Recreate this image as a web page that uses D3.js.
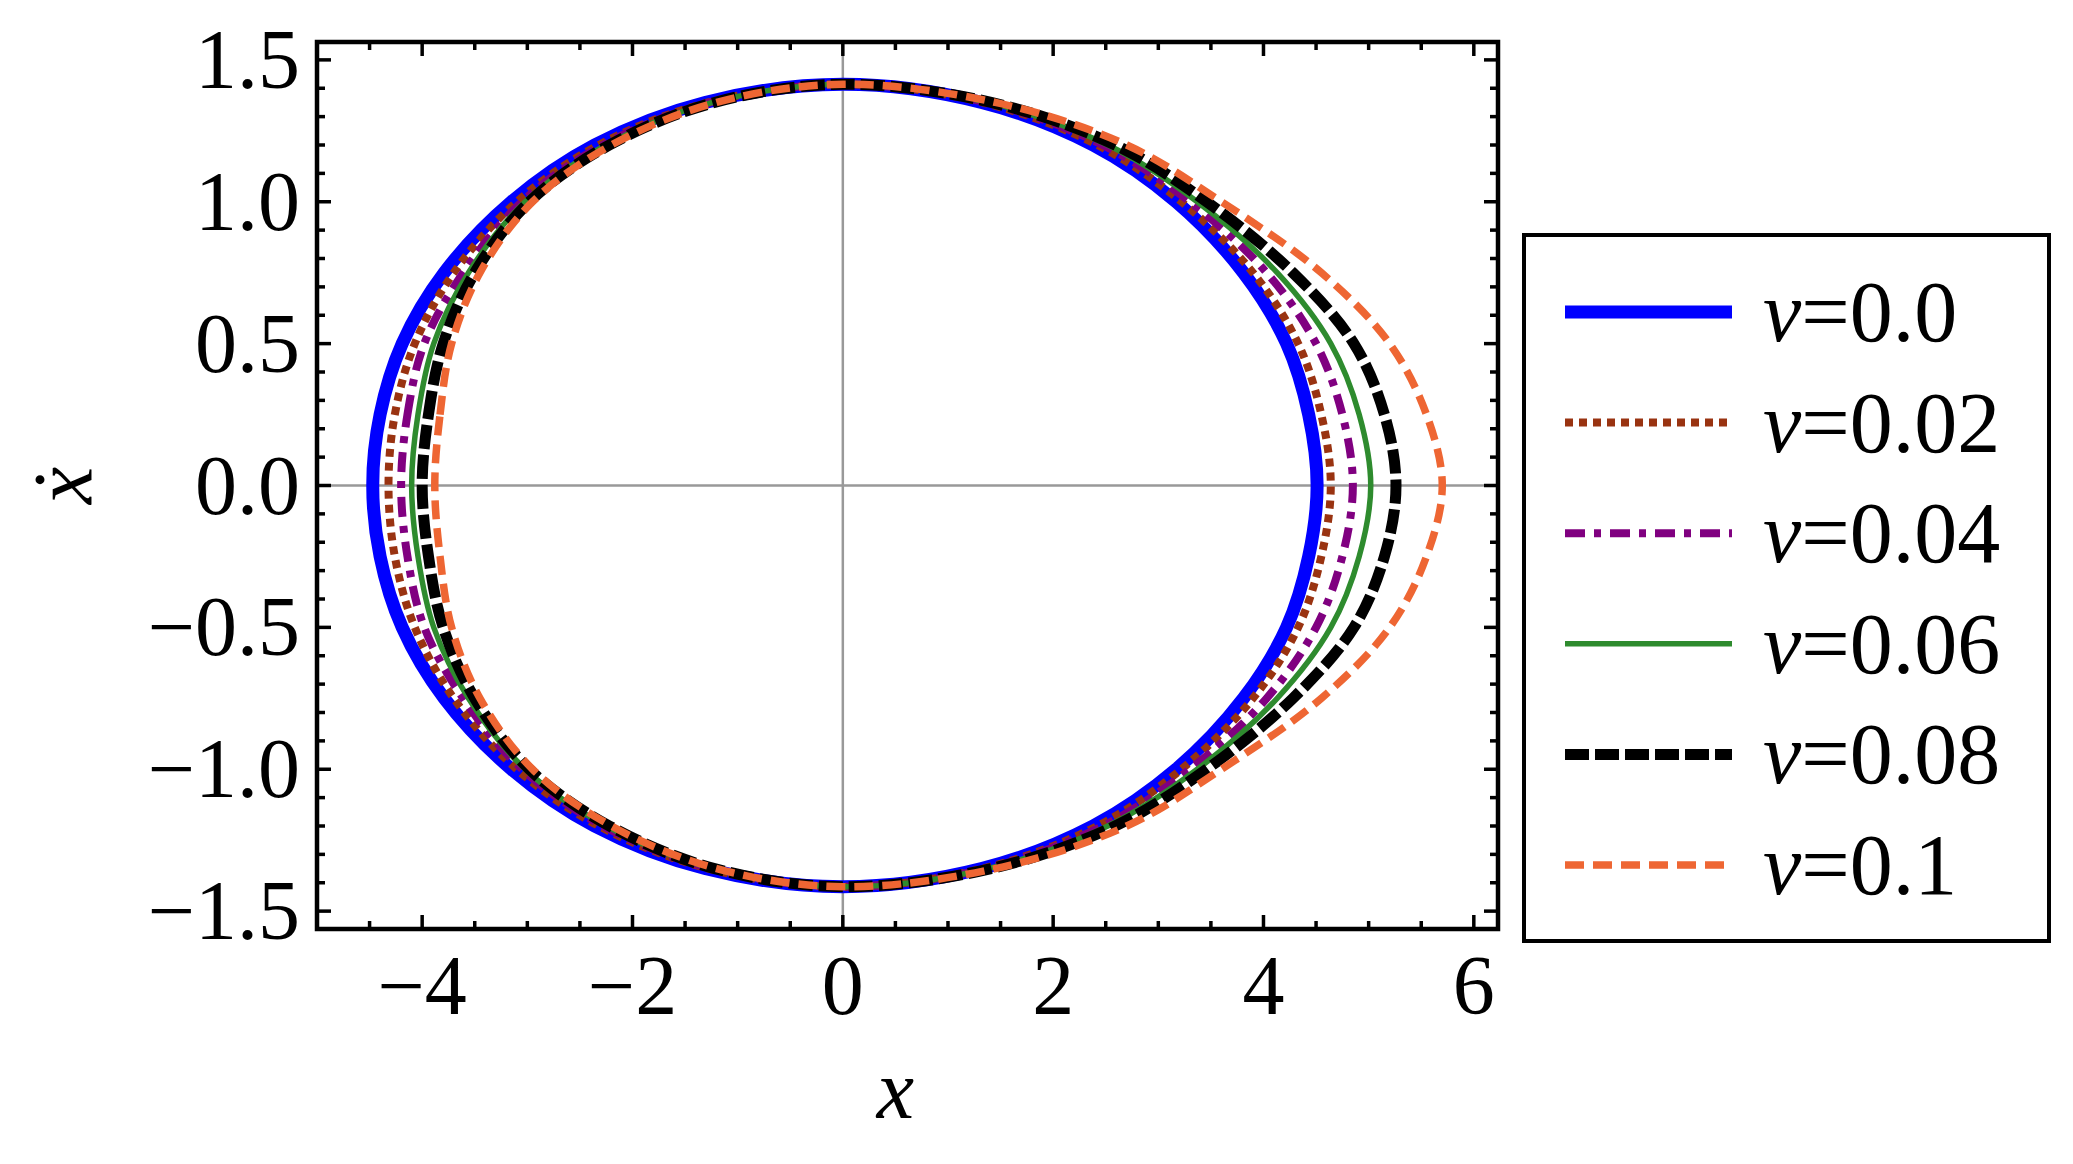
<!DOCTYPE html>
<html><head><meta charset="utf-8">
<script src="https://cdn.jsdelivr.net/npm/d3@7"></script>
<style>body{margin:0;background:#fff}svg{display:block}text{font-family:"Times New Roman","Liberation Serif",Times,serif}</style>
</head><body><svg id="c" width="2073" height="1164"></svg>
<script>
// velocity levels shared by all curves (upper half, mirrored below)
const levels = [1.414, 1.35, 1.2, 1.0, 0.75, 0.5, 0.25, 0];
const labels = ["0.0", "0.02", "0.04", "0.06", "0.08", "0.1"];
// x at each level, right branch
const rightX = [
  [0, 1.32, 2.38, 3.17, 3.81, 4.22, 4.43, 4.51],
  [0, 1.33, 2.42, 3.22, 3.90, 4.33, 4.55, 4.64],
  [0, 1.36, 2.47, 3.30, 4.03, 4.50, 4.75, 4.85],
  [0, 1.38, 2.52, 3.37, 4.13, 4.64, 4.91, 5.02],
  [0, 1.41, 2.59, 3.46, 4.28, 4.86, 5.15, 5.26],
  [0, 1.45, 2.70, 3.60, 4.55, 5.20, 5.55, 5.70]
];
// left branch
const leftX = [
  [0, -1.31, -2.36, -3.15, -3.79, -4.19, -4.40, -4.47],
  [0, -1.28, -2.32, -3.10, -3.70, -4.07, -4.26, -4.32],
  [0, -1.26, -2.28, -3.05, -3.61, -3.98, -4.14, -4.20],
  [0, -1.24, -2.25, -3.02, -3.56, -3.89, -4.04, -4.10],
  [0, -1.22, -2.22, -2.98, -3.50, -3.80, -3.94, -4.00],
  [0, -1.20, -2.20, -2.95, -3.45, -3.72, -3.83, -3.88]
];
const colors = ["#0000ff", "#993311", "#800080", "#2e8b2e", "#000000", "#ee6633"];
const widths = [13, 8, 8, 5.5, 11, 7.5];
const dashes = [null, "8,6", "20,9,7,9", null, "24,6", "19,9"];
const xTicks = [-4, -2, 0, 2, 4, 6];
const yTicks = [-1.5, -1.0, -0.5, 0.0, 0.5, 1.0, 1.5];

const L = 317, R = 1498, T = 42, B = 929;
const x = d3.scaleLinear().domain([-5, 6.23]).range([L, R]);
const y = d3.scaleLinear().domain([-1.563, 1.563]).range([B, T]);
const svg = d3.select("#c");
const fmt = v => (v < 0 ? "\u2212" : "") + Math.abs(v).toFixed(1);

// zero lines
svg.append("line").attr("x1", L).attr("x2", R).attr("y1", y(0)).attr("y2", y(0)).attr("stroke", "#999").attr("stroke-width", 2.5);
svg.append("line").attr("y1", T).attr("y2", B).attr("x1", x(0)).attr("x2", x(0)).attr("stroke", "#999").attr("stroke-width", 2.5);

// curves
const g = svg.append("g");
rightX.forEach((rx, i) => {
  const lx = leftX[i];
  const pts = [];
  for (let k = levels.length - 1; k >= 0; k--) pts.push([lx[k], levels[k]]);
  for (let k = 1; k < levels.length; k++) pts.push([rx[k], levels[k]]);
  for (let k = levels.length - 2; k >= 0; k--) pts.push([rx[k], -levels[k]]);
  for (let k = 1; k < levels.length - 1; k++) pts.push([lx[k], -levels[k]]);
  g.append("path")
    .attr("d", d3.line().x(d => x(d[0])).y(d => y(d[1])).curve(d3.curveCatmullRomClosed)(pts))
    .attr("fill", "none").attr("stroke", colors[i]).attr("stroke-width", widths[i])
    .attr("stroke-dasharray", dashes[i]);
});

// ticks inside on four sides
const ax = svg.append("g").attr("stroke", "#000").attr("stroke-width", 3.5);
d3.range(-5, 6.01, 0.5).forEach(v => {
  const len = Math.abs(v % 2) < 1e-6 ? 14 : 8;
  ax.append("line").attr("x1", x(v)).attr("x2", x(v)).attr("y1", B).attr("y2", B - len);
  ax.append("line").attr("x1", x(v)).attr("x2", x(v)).attr("y1", T).attr("y2", T + len);
});
d3.range(-15, 16).forEach(n => {
  const v = n / 10, len = n % 5 === 0 ? 14 : 8;
  ax.append("line").attr("y1", y(v)).attr("y2", y(v)).attr("x1", L).attr("x2", L + len);
  ax.append("line").attr("y1", y(v)).attr("y2", y(v)).attr("x1", R).attr("x2", R - len);
});
svg.append("rect").attr("x", L).attr("y", T).attr("width", R - L).attr("height", B - T)
  .attr("fill", "none").attr("stroke", "#000").attr("stroke-width", 4.5);

// tick labels
xTicks.forEach(v => svg.append("text").attr("x", x(v)).attr("y", 1014).attr("text-anchor", "middle")
  .attr("font-size", 84).text(v < 0 ? "\u2212" + (-v) : v));
yTicks.forEach(v => svg.append("text").attr("x", 300).attr("y", y(v) + 28).attr("text-anchor", "end")
  .attr("font-size", 84).text(fmt(v)));

// axis titles
svg.append("text").attr("x", x(0.5)).attr("y", 1118).attr("text-anchor", "middle").attr("font-size", 84)
  .attr("font-style", "italic").text("x");
svg.append("text").attr("transform", `translate(92,${y(0)}) rotate(-90)`).attr("text-anchor", "middle")
  .attr("font-size", 84).attr("font-style", "italic").text("\u1E8B");

// legend
svg.append("rect").attr("x", 1524).attr("y", 235).attr("width", 525).attr("height", 706)
  .attr("fill", "#fff").attr("stroke", "#000").attr("stroke-width", 4);
labels.forEach((lab, i) => {
  const ly = 312 + i * 110.6;
  svg.append("line").attr("x1", 1565).attr("x2", 1732).attr("y1", ly).attr("y2", ly)
    .attr("stroke", colors[i]).attr("stroke-width", widths[i]).attr("stroke-dasharray", dashes[i]);
  const t = svg.append("text").attr("x", 1763).attr("y", ly + 29).attr("font-size", 86);
  t.append("tspan").attr("font-style", "italic").text("\u03BD");
  t.append("tspan").text("=" + lab);
});
</script></body></html>
